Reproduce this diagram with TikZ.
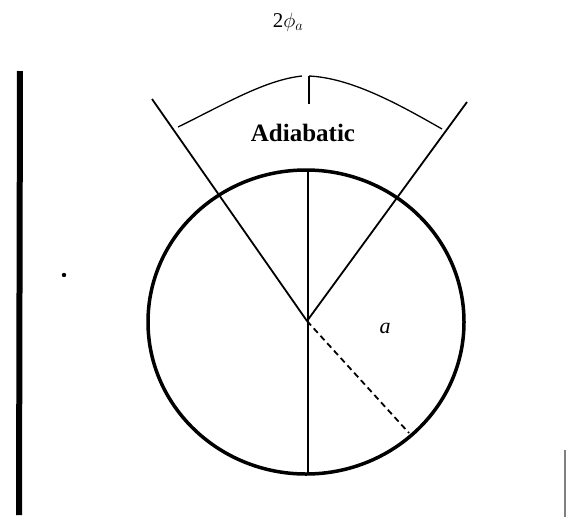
\documentclass[tikz,border=0pt]{standalone}
\usepackage{fontspec}
\setmainfont{Liberation Serif}
\begin{document}
\begin{tikzpicture}[x=1pt,y=-1pt,
  ray/.style={line width=1.8pt},
  rim/.style={line width=3.5pt},
  thin/.style={line width=1.3pt},
  lbl/.style={inner sep=0pt}]
\useasboundingbox (0,0) rectangle (567,517);
% key points
\coordinate (C) at (307,321);
\coordinate (L) at (152,99);
\coordinate (R) at (467,102);
\coordinate (T) at (308,170);
\coordinate (B) at (308,475);
\coordinate (D) at (409,433);
% circle
\draw[rim] (306,322) ellipse [x radius=158, y radius=152];
% rays
\draw[ray] (C) -- (L);
\draw[ray] (C) -- (R);
% vertical line
\draw[thin] (T) -- (B);
% dashed radius
\draw[line width=1.8pt, dash pattern=on 6pt off 4pt] (C) -- (D);
% brace-like arc
\coordinate (BL) at (178,127);
\coordinate (BM1) at (302,76);
\coordinate (BM2) at (309,76);
\coordinate (BT) at (309,104);
\coordinate (BR) at (442,129);
\draw[thin] (BL) .. controls (225,104) and (265,80) .. (BM1);
\draw[thin] (BM2) .. controls (350,78) and (395,102) .. (BR);
\draw[thin] (BM2) -- (BT);
% labels
\node[lbl] (adi) at (303,133) {\fontsize{25}{28}\selectfont\bfseries Adiabatic};
\node[lbl] (phi) at (288,22) {\fontsize{21}{24}\selectfont 2$\phi_a$};
\node[lbl] (a) at (385,328) {\fontsize{22}{24}\selectfont\itshape a};
% left bar, dot, right mark
\coordinate (LB1) at (20,71);
\coordinate (LB2) at (19,515);
\draw[line width=6pt] (LB1) -- (LB2);
\fill (64,275) circle (2.2pt);
\coordinate (RB1) at (565,450);
\coordinate (RB2) at (565,517);
\draw[gray, line width=1.2pt] (RB1) -- (RB2);
\end{tikzpicture}
\end{document}
